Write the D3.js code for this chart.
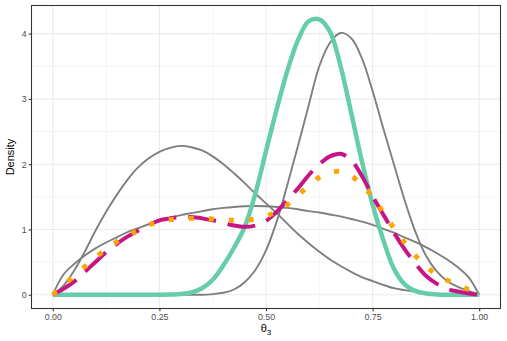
<!DOCTYPE html>
<html>
<head>
<meta charset="utf-8">
<script src="https://cdn.jsdelivr.net/npm/d3@7"></script>
<style>
  body { margin: 0; background: #fff; }
  svg { display: block; }
  text { font-family: "Liberation Sans", Arial, sans-serif; }
</style>
</head>
<body>
<svg id="chart" width="507" height="341"></svg>
<script>
// Evaluation grid for theta_3
const theta = [0, 0.025, 0.05, 0.075, 0.1, 0.125, 0.15, 0.175, 0.2, 0.225,
  0.25, 0.275, 0.3, 0.325, 0.35, 0.375, 0.4, 0.425, 0.45, 0.475,
  0.5, 0.525, 0.55, 0.575, 0.6, 0.625, 0.65, 0.675, 0.7, 0.725,
  0.75, 0.775, 0.8, 0.825, 0.85, 0.875, 0.9, 0.925, 0.95, 0.975, 1];

// Component densities (grey)
const componentLow = [0, 0.14, 0.37, 0.66, 0.98, 1.27, 1.53, 1.76, 1.95, 2.09,
  2.19, 2.25, 2.28, 2.26, 2.21, 2.12, 2.0, 1.86, 1.71, 1.55,
  1.40, 1.25, 1.09, 0.93, 0.79, 0.66, 0.54, 0.44, 0.35, 0.27,
  0.21, 0.15, 0.10, 0.07, 0.045, 0.025, 0.012, 0.005, 0.002, 0, 0];

const componentHigh = [0, 0, 0, 0, 0, 0, 0, 0, 0, 0,
  0, 0, 0, 0, 0, 0.01, 0.03, 0.08, 0.19, 0.38,
  0.68, 1.12, 1.68, 2.28, 2.9, 3.5, 3.86, 4.01, 3.93, 3.62,
  3.12, 2.55, 2.0, 1.45, 0.97, 0.6, 0.36, 0.21, 0.12, 0.06, 0];

const componentFlat = [0, 0.31, 0.47, 0.6, 0.71, 0.8, 0.88, 0.96, 1.02, 1.08,
  1.13, 1.18, 1.22, 1.25, 1.28, 1.31, 1.33, 1.345, 1.355, 1.36,
  1.355, 1.345, 1.33, 1.31, 1.28, 1.26, 1.23, 1.2, 1.16, 1.12,
  1.07, 1.01, 0.95, 0.88, 0.81, 0.73, 0.64, 0.54, 0.42, 0.27, 0];

// Target density (green)
const target = [0, 0, 0, 0, 0, 0, 0, 0, 0, 0,
  0, 0.003, 0.01, 0.035, 0.1, 0.23, 0.45, 0.72, 1.04, 1.55,
  2.2, 2.84, 3.43, 3.9, 4.19, 4.22, 4.03, 3.5, 2.78, 2.04,
  1.38, 0.84, 0.4, 0.16, 0.06, 0.02, 0.005, 0, 0, 0, 0];

// Mixture density (dashed)
const mixture = [0, 0.09, 0.2, 0.35, 0.5, 0.65, 0.78, 0.89, 0.98, 1.07,
  1.14, 1.17, 1.19, 1.19, 1.17, 1.14, 1.1, 1.06, 1.04, 1.06,
  1.13, 1.27, 1.45, 1.63, 1.83, 2.0, 2.12, 2.16, 2.06, 1.82,
  1.51, 1.23, 0.95, 0.7, 0.48, 0.29, 0.17, 0.09, 0.05, 0.02, 0];

// Approximation (dotted)
const approximation = [0, 0.14, 0.29, 0.43, 0.57, 0.7, 0.81, 0.9, 0.99, 1.07,
  1.11, 1.15, 1.16, 1.17, 1.17, 1.16, 1.15, 1.14, 1.14, 1.16,
  1.2, 1.28, 1.38, 1.52, 1.67, 1.8, 1.87, 1.89, 1.82, 1.68,
  1.5, 1.26, 1.02, 0.8, 0.6, 0.44, 0.31, 0.22, 0.15, 0.08, 0.02];

const xTicks = [0, 0.25, 0.5, 0.75, 1];
const xTickLabels = ["0.00", "0.25", "0.50", "0.75", "1.00"];
const xMinor = [0.125, 0.375, 0.625, 0.875];
const yTicks = [0, 1, 2, 3, 4];
const yMinor = [0.5, 1.5, 2.5, 3.5];

const panel = { left: 31.5, right: 500.5, top: 5.5, bottom: 308.5 };
const svg = d3.select("#chart");

const xMin = d3.min(theta), xMax = d3.max(theta);
const xPad = (xMax - xMin) * 0.05;
const x = d3.scaleLinear().domain([xMin - xPad, xMax + xPad]).range([panel.left, panel.right]);

const allSeries = [componentLow, componentHigh, componentFlat, target, mixture, approximation];
const yMax = d3.max(allSeries, s => d3.max(s));
const yPad = yMax * 0.05;
const y = d3.scaleLinear().domain([-yPad, yMax + yPad]).range([panel.bottom, panel.top]);

// panel background and grid
svg.append("rect").attr("x", panel.left).attr("y", panel.top)
  .attr("width", panel.right - panel.left).attr("height", panel.bottom - panel.top)
  .attr("fill", "#fff");

const grid = svg.append("g").attr("stroke", "#EBEBEB").attr("fill", "none");
grid.selectAll(".xm").data(xMinor).join("line")
  .attr("x1", d => x(d)).attr("x2", d => x(d)).attr("y1", panel.top).attr("y2", panel.bottom)
  .attr("stroke-width", 0.55);
grid.selectAll(".ym").data(yMinor).join("line")
  .attr("y1", d => y(d)).attr("y2", d => y(d)).attr("x1", panel.left).attr("x2", panel.right)
  .attr("stroke-width", 0.55);
grid.selectAll(".xM").data(xTicks).join("line")
  .attr("x1", d => x(d)).attr("x2", d => x(d)).attr("y1", panel.top).attr("y2", panel.bottom)
  .attr("stroke-width", 1.1);
grid.selectAll(".yM").data(yTicks).join("line")
  .attr("y1", d => y(d)).attr("y2", d => y(d)).attr("x1", panel.left).attr("x2", panel.right)
  .attr("stroke-width", 1.1);

// density curves
const toPoints = s => theta.map((t, i) => ({ t, v: s[i] }));
const line = d3.line().x(d => x(d.t)).y(d => y(d.v)).curve(d3.curveCatmullRom.alpha(0.5));

const layers = [
  { data: componentLow,  color: "#7F7F7F", width: 1.9, dash: null },
  { data: componentHigh, color: "#7F7F7F", width: 1.9, dash: null },
  { data: componentFlat, color: "#7F7F7F", width: 1.9, dash: null },
  { data: target,        color: "#66CDAA", width: 4.5, dash: null },
  { data: mixture,       color: "#C71585", width: 4.0, dash: "28,12" },
  { data: approximation, color: "#FFA500", width: 5.0, dash: "5,15" }
];

const curves = svg.append("g").attr("fill", "none");
layers.forEach(l => {
  curves.append("path")
    .attr("d", line(toPoints(l.data)))
    .attr("stroke", l.color)
    .attr("stroke-width", l.width)
    .attr("stroke-linecap", "butt")
    .attr("stroke-linejoin", "round")
    .attr("stroke-dasharray", l.dash);
});

// axes
const xAxis = svg.append("g").attr("transform", `translate(0,${panel.bottom})`)
  .call(d3.axisBottom(x).tickValues(xTicks).tickFormat((d, i) => xTickLabels[i])
    .tickSize(2.75).tickPadding(2.2));
const yAxis = svg.append("g").attr("transform", `translate(${panel.left},0)`)
  .call(d3.axisLeft(y).tickValues(yTicks).tickFormat(d3.format("d"))
    .tickSize(2.75).tickPadding(2.2));
[xAxis, yAxis].forEach(a => {
  a.select(".domain").remove();
  a.selectAll(".tick line").attr("stroke", "#333333").attr("stroke-width", 1.07);
  a.selectAll(".tick text").attr("fill", "#4D4D4D").style("font-size", "8.8px")
    .style("font-family", "'Liberation Sans', Arial, sans-serif");
});

// panel border
svg.append("rect").attr("x", panel.left).attr("y", panel.top)
  .attr("width", panel.right - panel.left).attr("height", panel.bottom - panel.top)
  .attr("fill", "none").attr("stroke", "#333333").attr("stroke-width", 1.07);

// axis titles
const xTitle = svg.append("text")
  .attr("x", (panel.left + panel.right) / 2).attr("y", 332)
  .attr("text-anchor", "middle").attr("fill", "#000").style("font-size", "11px");
xTitle.append("tspan").text("θ");
xTitle.append("tspan").attr("dy", 3).style("font-size", "8px").text("3");

svg.append("text")
  .attr("transform", `translate(14,${(panel.top + panel.bottom) / 2}) rotate(-90)`)
  .attr("text-anchor", "middle").attr("fill", "#000").style("font-size", "11px")
  .text("Density");
</script>
</body>
</html>
